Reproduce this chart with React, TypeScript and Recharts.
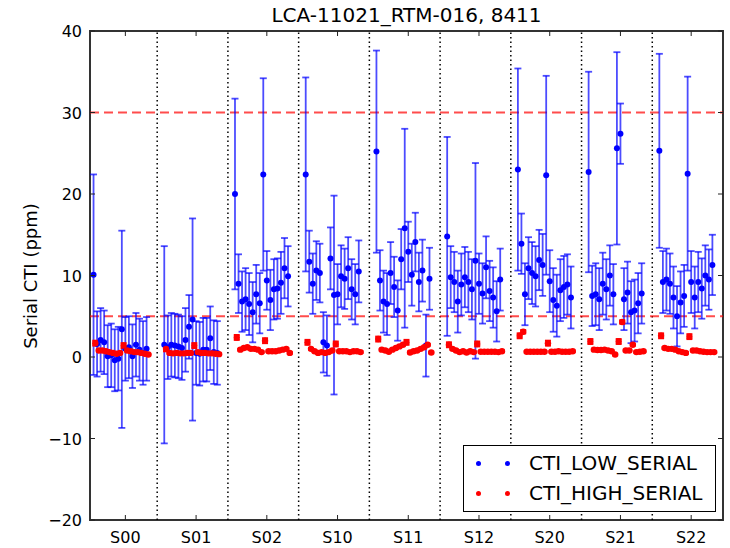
import React from "react";
import {
  ScatterChart,
  Scatter,
  XAxis,
  YAxis,
  ErrorBar,
  ReferenceLine,
  ReferenceArea,
} from "recharts";

// segment names, one tick per segment
const SEGMENTS = ["S00", "S01", "S02", "S10", "S11", "S12", "S20", "S21", "S22"];
const Y_TICKS = [-20, -10, 0, 10, 20, 30, 40];
const LIMITS = [30, 5];

// CTI_LOW_SERIAL, 16 amps per segment
const lowSerial = [
  [10.1, 1.6, 2.1, 1.8, 0.1, 0.2, -0.4, -0.2, 3.4, 1.0, 1.2, 0.1, 1.5, 0.9, 0.5, 1.0],
  [1.5, 1.2, 1.5, 1.4, 1.3, 1.1, 2.1, 3.7, 4.6, 0.5, 0.4, 0.9, 0.9, 2.3, 0.6, 0.5],
  [20.0, 9.0, 6.8, 7.1, 6.5, 5.5, 7.7, 6.6, 22.4, 9.4, 7.0, 8.3, 8.4, 9.1, 10.9, 9.9],
  [22.4, 11.7, 9.0, 10.6, 10.3, 1.8, 1.4, 12.1, 7.6, 7.7, 9.9, 9.6, 10.9, 8.3, 7.7, 10.5],
  [25.2, 9.4, 6.8, 6.5, 10.3, 8.6, 5.7, 12.0, 15.8, 12.9, 10.1, 14.1, 9.2, 10.6, 1.4, 9.6],
  [14.8, 9.8, 9.2, 6.8, 8.9, 9.8, 9.2, 8.3, 11.8, 9.0, 7.8, 11.0, 8.1, 7.3, 5.6, 9.5],
  [23.0, 13.9, 7.7, 10.9, 10.3, 9.9, 11.9, 11.3, 22.3, 9.3, 7.0, 6.3, 8.2, 8.6, 8.9, 7.3],
  [22.7, 7.5, 7.7, 7.1, 9.0, 8.3, 10.0, 7.7, 25.6, 27.4, 7.1, 7.9, 5.5, 5.7, 6.6, 7.8],
  [25.3, 9.2, 9.5, 9.0, 7.3, 5.0, 6.7, 7.5, 22.5, 9.2, 7.3, 9.2, 8.4, 10.0, 9.5, 11.3],
];
const lowSerialErr = [
  [12.3, 4.0, 3.9, 3.9, 3.8, 3.9, 3.8, 3.9, 12.1, 3.9, 3.8, 3.9, 3.9, 3.8, 3.9, 3.9],
  [12.1, 3.9, 3.9, 3.9, 3.9, 3.9, 3.9, 3.9, 12.4, 3.9, 3.9, 3.9, 3.9, 3.9, 3.9, 3.9],
  [11.7, 3.6, 3.7, 3.8, 3.8, 3.7, 3.6, 3.7, 11.8, 3.6, 3.7, 3.7, 3.7, 3.8, 3.7, 3.7],
  [11.9, 3.8, 3.7, 3.6, 3.6, 3.7, 3.7, 3.8, 12.2, 3.7, 3.8, 3.7, 3.8, 3.7, 3.7, 3.8],
  [12.4, 3.7, 3.8, 3.8, 3.8, 3.7, 3.7, 3.7, 12.2, 3.7, 3.8, 3.6, 3.6, 3.8, 3.8, 3.8],
  [12.2, 3.8, 3.7, 3.8, 3.8, 3.7, 3.7, 3.7, 12.0, 3.7, 3.7, 3.8, 3.7, 3.7, 3.7, 3.8],
  [12.4, 3.7, 3.8, 3.8, 3.8, 3.7, 3.7, 3.8, 12.2, 3.8, 3.9, 3.8, 3.8, 3.8, 3.7, 3.8],
  [12.3, 3.7, 3.8, 3.8, 3.8, 3.7, 3.7, 3.7, 11.8, 3.7, 3.8, 3.8, 3.8, 3.8, 3.7, 3.7],
  [11.9, 3.8, 3.8, 3.7, 3.8, 3.7, 3.8, 3.8, 11.9, 3.8, 3.8, 3.7, 3.7, 3.7, 3.7, 3.7],
];

// CTI_HIGH_SERIAL
const highSerial = [
  [1.7, 0.8, 0.8, 0.7, 0.6, 0.5, 0.4, 0.5, 1.4, 0.8, 0.7, 0.6, 0.6, 0.5, 0.4, 0.3],
  [1.0, 0.5, 0.45, 0.5, 0.45, 0.45, 0.5, 0.5, 1.4, 0.6, 0.5, 0.5, 0.45, 0.45, 0.4, 0.35],
  [2.4, 0.9, 1.1, 1.2, 1.0, 1.0, 0.9, 0.6, 2.0, 0.7, 0.7, 0.7, 0.8, 0.9, 1.0, 0.5],
  [1.8, 1.0, 0.7, 0.5, 0.6, 0.5, 0.6, 0.8, 1.6, 0.7, 0.7, 0.7, 0.6, 0.7, 0.7, 0.6],
  [2.2, 0.9, 0.8, 0.65, 0.9, 1.1, 1.3, 1.5, 1.8, 0.55, 0.7, 0.8, 1.0, 1.2, 1.5, 0.55],
  [1.5, 1.0, 0.8, 0.6, 0.7, 0.55, 0.7, 0.6, 1.6, 0.65, 0.65, 0.65, 0.65, 0.65, 0.6, 0.7],
  [2.6, 3.1, 0.65, 0.65, 0.65, 0.65, 0.65, 0.65, 1.7, 0.65, 0.65, 0.7, 0.65, 0.65, 0.65, 0.7],
  [1.9, 0.9, 0.85, 0.85, 0.9, 0.8, 0.7, 0.3, 1.9, 4.3, 0.8, 0.8, 1.5, 0.6, 0.65, 0.7],
  [2.6, 1.1, 1.0, 1.0, 0.9, 0.7, 0.6, 0.5, 2.5, 0.8, 0.8, 0.7, 0.65, 0.6, 0.6, 0.6],
];
const highSerialErr = [
  [0.3, 0.1, 0.1, 0.1, 0.1, 0.1, 0.1, 0.1, 0.3, 0.1, 0.1, 0.1, 0.1, 0.1, 0.1, 0.1],
  [0.3, 0.1, 0.1, 0.1, 0.1, 0.1, 0.1, 0.1, 0.3, 0.1, 0.1, 0.1, 0.1, 0.1, 0.1, 0.1],
  [0.3, 0.1, 0.1, 0.1, 0.1, 0.1, 0.1, 0.1, 0.3, 0.1, 0.1, 0.1, 0.1, 0.1, 0.1, 0.1],
  [0.3, 0.1, 0.1, 0.1, 0.1, 0.1, 0.1, 0.1, 0.3, 0.1, 0.1, 0.1, 0.1, 0.1, 0.1, 0.1],
  [0.3, 0.1, 0.1, 0.1, 0.1, 0.1, 0.1, 0.1, 0.3, 0.1, 0.1, 0.1, 0.1, 0.1, 0.1, 0.1],
  [0.3, 0.1, 0.1, 0.1, 0.1, 0.1, 0.1, 0.1, 0.3, 0.1, 0.1, 0.1, 0.1, 0.1, 0.1, 0.1],
  [0.3, 0.2, 0.1, 0.1, 0.1, 0.1, 0.1, 0.1, 0.3, 0.1, 0.1, 0.1, 0.1, 0.1, 0.1, 0.1],
  [0.3, 0.1, 0.1, 0.1, 0.1, 0.1, 0.1, 0.1, 0.3, 0.2, 0.1, 0.1, 0.1, 0.1, 0.1, 0.1],
  [0.3, 0.1, 0.1, 0.1, 0.1, 0.1, 0.1, 0.1, 0.3, 0.1, 0.1, 0.1, 0.1, 0.1, 0.1, 0.1],
];

const W = 730;
const H = 548;
const PLOT_LEFT = 90;
const PLOT_RIGHT = 723;
const PLOT_TOP = 31;
const PLOT_BOTTOM = 520;
const SPAN = 20; // x units per segment
const X_MAX = SEGMENTS.length * SPAN - 1;
const FONT = "'DejaVu Sans', sans-serif";

const segTicks = SEGMENTS.map((_, g) => g * SPAN + SPAN / 2);
const dividers = SEGMENTS.slice(1).map((_, g) => (g + 1) * SPAN - 1);

function toPoints(values: number[][], errs: number[][], shift: number) {
  return values.flatMap((row, g) =>
    row.map((v, i) => ({ x: g * SPAN + 1 + i + shift, y: v, err: errs[g][i] }))
  );
}

const lowPoints = toPoints(lowSerial, lowSerialErr, 0);
const highPoints = toPoints(highSerial, highSerialErr, 0.5);

const fmt = (v: number) => (v < 0 ? `\u2212${Math.abs(v)}` : `${v}`);

function XTick(props: any) {
  const { x, payload } = props;
  const idx = segTicks.indexOf(payload.value);
  return (
    <g>
      <line x1={x} x2={x} y1={PLOT_BOTTOM} y2={PLOT_BOTTOM - 5} stroke="#222" />
      <line x1={x} x2={x} y1={PLOT_TOP} y2={PLOT_TOP + 5} stroke="#222" />
      <text x={x} y={543} textAnchor="middle" fontSize={16} fontFamily={FONT} fill="#000">
        {SEGMENTS[idx]}
      </text>
    </g>
  );
}

function YTick(props: any) {
  const { y, payload } = props;
  return (
    <g>
      <line x1={PLOT_LEFT} x2={PLOT_LEFT + 5} y1={y} y2={y} stroke="#222" />
      <line x1={PLOT_RIGHT - 5} x2={PLOT_RIGHT} y1={y} y2={y} stroke="#222" />
      <text
        x={PLOT_LEFT - 8}
        y={y}
        dy={6}
        textAnchor="end"
        fontSize={16}
        fontFamily={FONT}
        fill="#000"
      >
        {fmt(payload.value)}
      </text>
    </g>
  );
}

const BlueDot = (p: any) => <circle cx={p.cx} cy={p.cy} r={3} fill="#0000ff" />;
const RedDot = (p: any) => <circle cx={p.cx} cy={p.cy} r={3.2} fill="#ff0000" />;

function LegendBox() {
  const rows = [
    { color: "#0000ff", label: "CTI_LOW_SERIAL", y: 17 },
    { color: "#ff0000", label: "CTI_HIGH_SERIAL", y: 47 },
  ];
  return (
    <div
      style={{
        position: "absolute",
        left: 463,
        top: 445,
        width: 251,
        height: 65,
        border: "1.5px solid #000",
        background: "#fff",
        fontFamily: FONT,
      }}
    >
      {rows.map((r) => (
        <React.Fragment key={r.label}>
          {[14, 43].map((dx) => (
            <div
              key={dx}
              style={{
                position: "absolute",
                left: dx - 2.5,
                top: r.y - 2.5,
                width: 5,
                height: 5,
                borderRadius: "50%",
                background: r.color,
              }}
            />
          ))}
          <div
            style={{
              position: "absolute",
              left: 65,
              top: r.y - 12,
              fontSize: 20,
              lineHeight: "24px",
              whiteSpace: "nowrap",
              color: "#000",
            }}
          >
            {r.label}
          </div>
        </React.Fragment>
      ))}
    </div>
  );
}

export default function App() {
  return (
    <div
      style={{
        position: "absolute",
        left: 0,
        top: 0,
        width: W,
        height: H,
        background: "#fff",
        overflow: "hidden",
      }}
    >
      <div
        style={{
          position: "absolute",
          left: (PLOT_LEFT + PLOT_RIGHT) / 2,
          top: 3,
          transform: "translateX(-50%)",
          fontFamily: FONT,
          fontSize: 20,
          whiteSpace: "nowrap",
          color: "#000",
        }}
      >
        LCA-11021_RTM-016, 8411
      </div>
      <div
        style={{
          position: "absolute",
          left: 30,
          top: (PLOT_TOP + PLOT_BOTTOM) / 2,
          transform: "translate(-50%, -50%) rotate(-90deg)",
          fontFamily: FONT,
          fontSize: 18,
          whiteSpace: "nowrap",
          color: "#000",
        }}
      >
        Serial CTI (ppm)
      </div>
      <ScatterChart
        width={W}
        height={H}
        margin={{ top: PLOT_TOP, right: W - PLOT_RIGHT, bottom: 0, left: 30 }}
      >
        <XAxis
          type="number"
          dataKey="x"
          domain={[0, X_MAX]}
          ticks={segTicks}
          height={H - PLOT_BOTTOM}
          axisLine={false}
          tickLine={false}
          tickSize={0}
          tick={<XTick />}
          interval={0}
        />
        <YAxis
          type="number"
          dataKey="y"
          domain={[-20, 40]}
          ticks={Y_TICKS}
          width={PLOT_LEFT - 30}
          axisLine={false}
          tickLine={false}
          tickSize={0}
          tick={<YTick />}
          interval={0}
        />
        {dividers.map((d) => (
          <ReferenceLine
            key={d}
            x={d}
            stroke="#000"
            strokeWidth={1.5}
            strokeDasharray="1.5 3"
          />
        ))}
        {LIMITS.map((l) => (
          <ReferenceLine
            key={l}
            y={l}
            stroke="#ff0000"
            strokeOpacity={0.7}
            strokeWidth={2}
            strokeDasharray="9 5"
          />
        ))}
        <ReferenceArea
          x1={0}
          x2={X_MAX}
          y1={-20}
          y2={40}
          fill="none"
          stroke="#333"
          strokeWidth={2}
        />
        <Scatter
          name="CTI_LOW_SERIAL"
          data={lowPoints}
          shape={BlueDot}
          isAnimationActive={false}
        >
          <ErrorBar
            dataKey="err"
            direction="y"
            width={3.5}
            stroke="#0000ff"
            strokeOpacity={0.7}
            strokeWidth={1.8}
            isAnimationActive={false}
          />
        </Scatter>
        <Scatter
          name="CTI_HIGH_SERIAL"
          data={highPoints}
          shape={RedDot}
          isAnimationActive={false}
        >
          <ErrorBar
            dataKey="err"
            direction="y"
            width={3}
            stroke="#ff0000"
            strokeWidth={2}
            isAnimationActive={false}
          />
        </Scatter>
      </ScatterChart>
      <LegendBox />
    </div>
  );
}
